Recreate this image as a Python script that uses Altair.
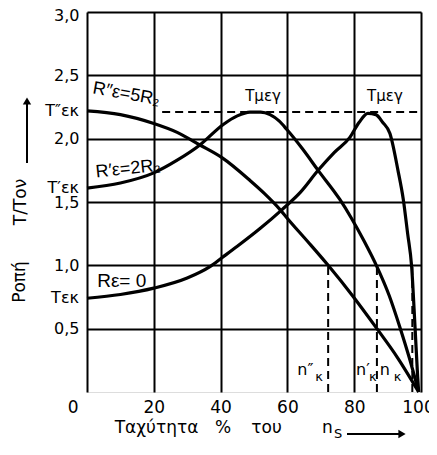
import altair as alt
import pandas as pd

FONT = "DejaVu Sans"
RFONT = "Liberation Sans"

# ---- data ----
# Rε = 0
speed_a = [0, 10, 20, 30, 36.8, 40.4, 45, 51.8, 58.4, 64, 69.2, 74, 78.7, 81.5, 84.1,
           86.5, 88.5, 90.7, 93.1, 94.7, 96, 97.2, 98.2, 99.0, 99.3]
torque_a = [0.74, 0.77, 0.82, 0.90, 0.99, 1.06, 1.15, 1.29, 1.44, 1.58, 1.75, 1.89, 2.01, 2.13, 2.20,
            2.19, 2.13, 2.04, 1.75, 1.52, 1.25, 0.99, 0.52, 0.12, 0.0]
# R'ε = 2R2
speed_b = [0, 10, 20, 27, 33.8, 40.7, 45, 48.8, 52, 54.8, 57.5, 59.9, 64.5, 69.2, 75.7,
           79, 83, 86.8, 90.5, 93.7, 96.5, 99.3]
torque_b = [1.61, 1.65, 1.73, 1.83, 1.95, 2.11, 2.18, 2.21, 2.21, 2.19, 2.14, 2.07, 1.92, 1.75, 1.52,
            1.38, 1.19, 0.99, 0.76, 0.51, 0.27, 0.0]
# R''ε = 5R2
speed_c = [0, 10, 20, 27, 33.8, 40.4, 48.8, 53, 57.8, 60, 66, 72.2, 79.5, 86.8, 93, 99.3]
torque_c = [2.22, 2.19, 2.12, 2.05, 1.95, 1.85, 1.67, 1.57, 1.44, 1.37, 1.19, 1.0, 0.76, 0.5, 0.27, 0.0]

t_max = 2.21            # Tμεγ level
t_max_dash_start = 22.5
n_k = [72.2, 86.8, 97.4]   # n''k, n'k, nk
x_ticks = [0, 20, 40, 60, 80, 100]
y_ticks = [0.5, 1.0, 1.5, 2.0, 2.5, 3.0]

curves = pd.concat([
    pd.DataFrame({"speed": speed_a, "torque": torque_a, "curve": "A"}),
    pd.DataFrame({"speed": speed_b, "torque": torque_b, "curve": "B"}),
    pd.DataFrame({"speed": speed_c, "torque": torque_c, "curve": "C"}),
])

xs = alt.Scale(domain=[0, 100], nice=False, zero=False)
ys = alt.Scale(domain=[0, 3], nice=False)

x_axis = alt.Axis(values=x_ticks, grid=True, gridColor="black", gridWidth=2, gridOpacity=1,
                  domain=False, ticks=False, labelFont=FONT, labelFontSize=17, labelColor="black",
                  labelPadding=7, title=None,
                  labelAlign={"condition": {"test": "datum.value == 0", "value": "right"}, "value": "center"},
                  labelOffset={"condition": [{"test": "datum.value == 0", "value": -9},
                                             {"test": "datum.value == 100", "value": -3}], "value": 0})
y_axis = alt.Axis(values=y_ticks, grid=True, gridColor="black", gridWidth=2, gridOpacity=1,
                  domain=False, ticks=False, labelFont=FONT, labelFontSize=16, labelColor="black",
                  labelPadding=8, title=None,
                  labelOffset={"condition": {"test": "datum.value == 3", "value": 3}, "value": 0},
                  labelExpr="replace(format(datum.value, '.1f'), '.', ',')")

lines = alt.Chart(curves).mark_line(color="black", strokeWidth=3.2, interpolate="monotone").encode(
    x=alt.X("speed:Q", scale=xs, axis=x_axis),
    y=alt.Y("torque:Q", scale=ys, axis=y_axis),
    detail="curve:N",
)

hdash = alt.Chart(pd.DataFrame({"speed": [t_max_dash_start], "speed2": [100], "torque": [t_max]})).mark_rule(
    color="black", strokeWidth=2, strokeDash=[8, 5]).encode(
    x=alt.X("speed:Q", scale=xs), x2="speed2:Q", y=alt.Y("torque:Q", scale=ys))

vdash = alt.Chart(pd.DataFrame({"speed": n_k, "torque": [0] * 3, "torque2": [1.0] * 3})).mark_rule(
    color="black", strokeWidth=2, strokeDash=[8, 5]).encode(
    x=alt.X("speed:Q", scale=xs), y=alt.Y("torque:Q", scale=ys), y2="torque2:Q")


def txt(df, size=16, align="center", baseline="middle", angle=0, font=FONT):
    return alt.Chart(df).mark_text(font=font, fontSize=size, color="black", align=align,
                                   baseline=baseline, angle=angle).encode(
        x=alt.X("speed:Q", scale=xs), y=alt.Y("torque:Q", scale=ys), text="label:N")


peaks = txt(pd.DataFrame({"speed": [52.7, 89.2], "torque": [2.34, 2.34], "label": ["Tμεγ", "Tμεγ"]}), size=15)
lab_c = txt(pd.DataFrame({"speed": [11.8], "torque": [2.35], "label": ["R″ε=5R₂"]}), size=18, angle=10, font=RFONT)
lab_b = txt(pd.DataFrame({"speed": [12.3], "torque": [1.76], "label": ["R′ε=2R₂"]}), size=18, angle=354, font=RFONT)
lab_a = txt(pd.DataFrame({"speed": [10.4], "torque": [0.88], "label": ["Rε= 0"]}), size=19, font=RFONT)
starts = txt(pd.DataFrame({"speed": [-2.4] * 3, "torque": [torque_c[0], torque_b[0], torque_a[0]],
                           "label": ["T″εκ", "T′εκ", "Tεκ"]}), size=16, align="right")
n_main = txt(pd.DataFrame({"speed": [65.4, 82.6, 89.2], "torque": [0.17] * 3,
                           "label": ["n″", "n′", "n"]}), size=16)
n_sub = txt(pd.DataFrame({"speed": [69.5, 85.6, 93.0], "torque": [0.12] * 3,
                          "label": ["κ", "κ", "κ"]}), size=13)

one = pd.DataFrame({"k": [0]})


def piece(text, x, y, size=17, align="center", baseline="alphabetic", angle=0):
    return alt.Chart(one).mark_text(text=text, font=FONT, fontSize=size, color="black",
                                    align=align, baseline=baseline, angle=angle).encode(
        x=alt.value(x), y=alt.value(y))


titles = [
    piece("Ταχύτητα", 69.5, 421),
    piece("%", 136, 421),
    piece("του", 179.5, 421),
    piece("n", 240.5, 421),
    piece("S", 251, 426, size=13),
    piece("Ροπή", -67, 270, baseline="middle", angle=270),
    piece("T/Τον", -66, 190, baseline="middle", angle=270),
]
x_arrow = alt.Chart(one).mark_rule(color="black", strokeWidth=2).encode(
    x=alt.value(260), x2=alt.value(312), y=alt.value(422))
x_head = alt.Chart(one).mark_point(shape="triangle-right", filled=True, color="black", size=70, opacity=1).encode(
    x=alt.value(315), y=alt.value(422))
y_arrow = alt.Chart(one).mark_rule(color="black", strokeWidth=2).encode(
    x=alt.value(-60), y=alt.value(92), y2=alt.value(151))
y_head = alt.Chart(one).mark_point(shape="triangle-up", filled=True, color="black", size=70, opacity=1).encode(
    x=alt.value(-60), y=alt.value(89))

chart = alt.layer(
    lines, hdash, vdash, peaks, lab_c, lab_b, lab_a, starts, n_main, n_sub,
    *titles, x_arrow, x_head, y_arrow, y_head,
).properties(
    width=334, height=380,
    autosize=alt.AutoSizeParams(type="none"),
    padding={"left": 79, "top": 4, "right": 8, "bottom": 48},
).configure_view(stroke="black", strokeWidth=3).configure(background="white")

chart.save("out.html", embed_options={"renderer": "svg", "actions": False})
